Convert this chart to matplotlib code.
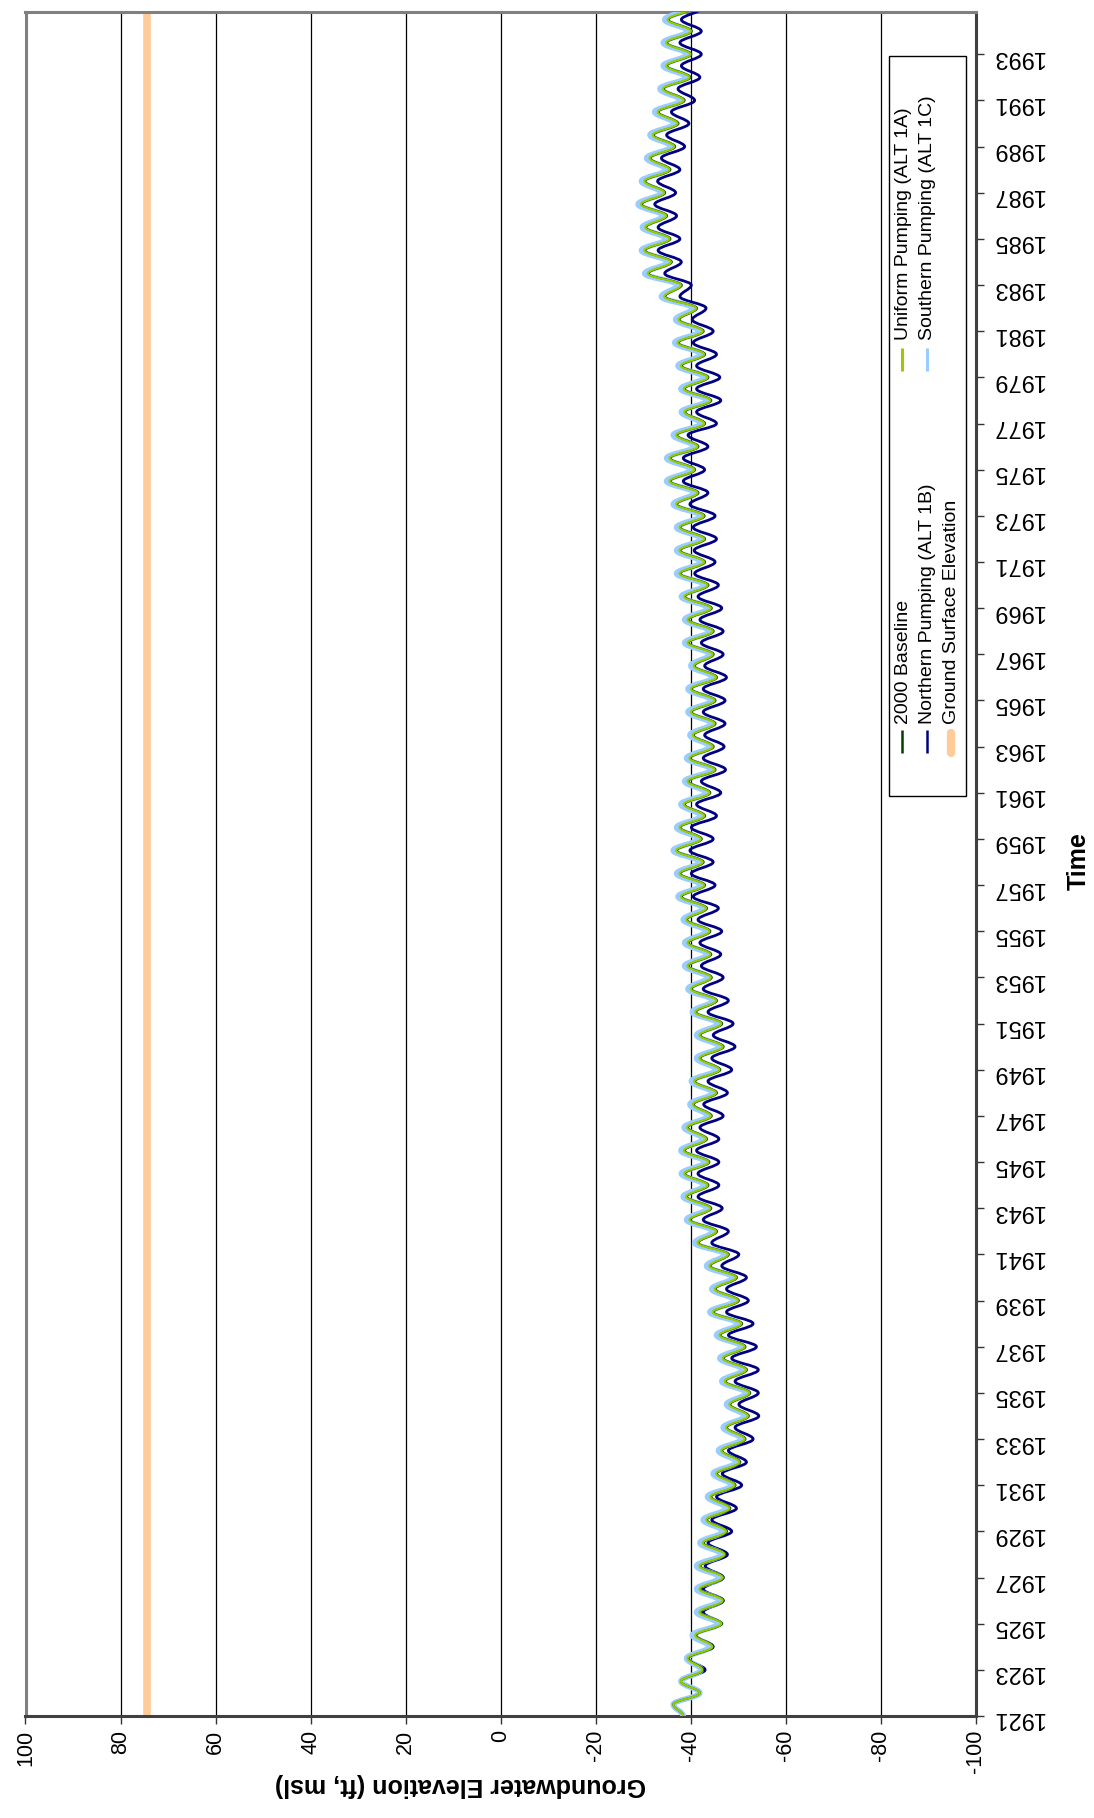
import matplotlib
matplotlib.use("Agg")
import matplotlib.pyplot as plt
from matplotlib.path import Path
from matplotlib.patches import PathPatch, Rectangle
from matplotlib.lines import Line2D

plt.rcParams["font.family"] = ["Liberation Sans", "DejaVu Sans"]

# ---- data (ft msl), highs at mid-year, lows at start of year ----
start_year = 1921.0
start_elev = -38.4
high_years = list(range(1921, 1995))   # peaks at year + 0.5
low_years = list(range(1922, 1996))    # troughs at year + 0.0

south_hi = [-36.3, -37.9, -39.1, -40.3, -41.2, -41.2, -41.2, -41.9, -42.6, -43.5,
            -44.7, -45.8, -46.8, -47.5, -46.5, -46.1, -45.4, -44.0, -44.4, -43.3,
            -40.8, -39.1, -38.4, -38.0, -37.9, -38.6, -39.8, -40.1, -41.2, -41.2,
            -40.3, -39.4, -38.7, -38.7, -38.4, -37.3, -37.0, -36.3, -37.0, -37.9,
            -38.7, -39.1, -39.8, -39.4, -39.4, -40.0, -38.7, -38.7, -38.0, -37.0,
            -37.0, -37.0, -36.3, -34.9, -34.9, -36.3, -38.0, -37.9, -37.3, -36.6,
            -36.8, -33.8, -30.3, -29.6, -29.8, -28.9, -29.6, -30.7, -31.4, -32.4,
            -33.5, -34.2, -34.2, -34.5]
south_lo = [-41.9, -42.2, -44.0, -45.8, -46.1, -46.1, -46.5, -46.8, -47.5, -48.6,
            -49.6, -50.7, -51.4, -51.7, -51.0, -50.7, -50.0, -49.3, -48.9, -47.2,
            -44.7, -43.5, -42.9, -43.1, -42.6, -43.6, -44.7, -45.4, -46.1, -45.8,
            -44.7, -43.6, -43.5, -43.3, -42.6, -42.2, -41.9, -41.5, -42.2, -43.3,
            -44.4, -44.0, -44.4, -44.4, -44.7, -44.0, -44.0, -43.6, -42.9, -42.2,
            -42.2, -42.1, -40.8, -40.1, -40.8, -42.2, -43.5, -42.9, -42.2, -41.9,
            -40.5, -37.3, -35.2, -34.9, -34.2, -33.8, -34.9, -35.9, -36.6, -37.9,
            -39.1, -39.3, -39.4, -39.5]

north_hi = [-36.5, -38.0, -39.3, -41.0, -42.6, -42.6, -43.0, -43.6, -44.4, -45.4,
            -46.6, -47.9, -49.3, -50.1, -49.3, -48.6, -47.9, -47.5, -47.5, -46.5,
            -44.4, -42.6, -41.5, -41.5, -41.2, -41.9, -42.7, -43.6, -44.4, -44.7,
            -43.6, -42.6, -42.2, -41.9, -41.5, -40.5, -40.1, -39.8, -40.1, -41.2,
            -42.2, -42.6, -42.9, -42.6, -42.6, -42.9, -42.2, -41.9, -41.5, -40.8,
            -40.7, -40.5, -39.8, -38.4, -38.4, -39.4, -41.2, -41.2, -41.2, -40.5,
            -40.3, -37.7, -34.5, -33.1, -33.1, -32.4, -33.0, -33.8, -34.9, -35.9,
            -37.3, -38.0, -37.7, -38.0]
north_lo = [-42.0, -43.0, -44.7, -46.1, -46.8, -46.8, -47.7, -48.6, -49.6, -50.7,
            -51.7, -53.1, -54.3, -54.2, -54.2, -53.8, -53.1, -52.1, -51.7, -50.1,
            -47.9, -46.6, -45.9, -45.9, -45.9, -46.8, -47.7, -48.6, -49.3, -48.9,
            -47.9, -46.8, -46.3, -46.5, -45.8, -45.1, -44.7, -44.7, -45.4, -46.3,
            -47.3, -47.0, -47.2, -47.2, -47.5, -46.8, -46.8, -46.5, -45.8, -45.1,
            -45.4, -45.1, -43.6, -42.9, -43.6, -45.4, -46.3, -46.1, -45.4, -44.7,
            -43.2, -40.1, -38.0, -37.7, -37.0, -36.8, -37.7, -38.7, -39.6, -40.8,
            -41.9, -42.2, -42.2, -42.3]

uniform_hi = [-36.3, -37.9, -39.3, -40.9, -41.8, -41.8, -41.8, -42.5, -43.2, -44.1,
              -45.3, -46.4, -47.4, -48.1, -47.1, -46.7, -46.0, -44.6, -45.0, -43.9,
              -41.4, -39.7, -39.0, -38.6, -38.5, -39.2, -40.4, -40.7, -41.8, -41.8,
              -40.9, -40.0, -39.3, -39.3, -39.0, -37.9, -37.6, -36.9, -37.6, -38.5,
              -39.3, -39.7, -40.4, -40.0, -40.0, -40.6, -39.3, -39.3, -38.6, -37.6,
              -37.6, -37.6, -36.9, -35.5, -35.5, -36.9, -38.6, -38.5, -37.9, -37.2,
              -37.4, -34.4, -30.9, -30.2, -30.4, -29.5, -30.2, -31.3, -32.0, -33.0,
              -34.1, -34.8, -34.8, -35.1]
uniform_lo = [-41.9, -42.4, -44.5, -46.4, -46.7, -46.7, -47.1, -47.4, -48.1, -49.2,
              -50.2, -51.3, -52.0, -52.3, -51.6, -51.3, -50.6, -49.9, -49.5, -47.8,
              -45.3, -44.1, -43.5, -43.7, -43.2, -44.2, -45.3, -46.0, -46.7, -46.4,
              -45.3, -44.2, -44.1, -43.9, -43.2, -42.8, -42.5, -42.1, -42.8, -43.9,
              -45.0, -44.6, -45.0, -45.0, -45.3, -44.6, -44.6, -44.2, -43.5, -42.8,
              -42.8, -42.7, -41.4, -40.7, -41.4, -42.8, -44.1, -43.5, -42.8, -42.5,
              -41.1, -37.9, -35.8, -35.5, -34.8, -34.4, -35.5, -36.5, -37.2, -38.5,
              -39.7, -39.9, -40.0, -40.1]

base_hi = [-36.3, -37.9, -39.5, -41.1, -42.0, -42.0, -42.0, -42.7, -43.4, -44.3,
           -45.5, -46.6, -47.6, -48.3, -47.3, -46.9, -46.2, -44.8, -45.2, -44.1,
           -41.6, -39.9, -39.2, -38.8, -38.7, -39.4, -40.6, -40.9, -42.0, -42.0,
           -41.1, -40.2, -39.5, -39.5, -39.2, -38.1, -37.8, -37.1, -37.8, -38.7,
           -39.5, -39.9, -40.6, -40.2, -40.2, -40.8, -39.5, -39.5, -38.8, -37.8,
           -37.8, -37.8, -37.1, -35.7, -35.7, -37.1, -38.8, -38.7, -38.1, -37.4,
           -37.6, -34.6, -31.1, -30.4, -30.6, -29.7, -30.4, -31.5, -32.2, -33.2,
           -34.3, -35.0, -35.0, -35.3]
base_lo = [-41.9, -42.6, -44.7, -46.6, -46.9, -46.9, -47.3, -47.6, -48.3, -49.4,
           -50.4, -51.5, -52.2, -52.5, -51.8, -51.5, -50.8, -50.1, -49.7, -48.0,
           -45.5, -44.3, -43.7, -43.9, -43.4, -44.4, -45.5, -46.2, -46.9, -46.6,
           -45.5, -44.4, -44.3, -44.1, -43.4, -43.0, -42.7, -42.3, -43.0, -44.1,
           -45.2, -44.8, -45.2, -45.2, -45.5, -44.8, -44.8, -44.4, -43.7, -43.0,
           -43.0, -42.9, -41.6, -40.9, -41.6, -43.0, -44.3, -43.7, -43.0, -42.7,
           -41.3, -38.1, -36.0, -35.7, -35.0, -34.6, -35.7, -36.7, -37.4, -38.7,
           -39.9, -40.1, -40.2, -40.3]

ground_elev = 74.5

elev_ticks = [100, 80, 60, 40, 20, 0, -20, -40, -60, -80, -100]
elev_labels = ["100", "80", "60", "40", "20", "0", "-20", "-40", "-60", "-80", "-100"]
year_ticks = list(range(1921, 1994, 2))
time_end = 1994.83

W, H = 1094, 1818


def series_path(hi, lo):
    t = [start_year]
    e = [start_elev]
    for y_hi, v_hi, y_lo, v_lo in zip(high_years, hi, low_years, lo):
        t += [y_hi + 0.5, y_lo]
        e += [v_hi, v_lo]
    # smooth line between turning points (like Excel "smoothed line")
    c = 0.3634
    verts = [(e[0], t[0])]
    codes = [Path.MOVETO]
    for k in range(len(t) - 1):
        dt = t[k + 1] - t[k]
        verts += [(e[k], t[k] + c * dt), (e[k + 1], t[k + 1] - c * dt), (e[k + 1], t[k + 1])]
        codes += [Path.CURVE4] * 3
    return Path(verts, codes)


fig = plt.figure(figsize=(W / 100, H / 100), dpi=100)
ax = fig.add_axes([25.5 / W, 1 - 1716 / H, (976 - 25.5) / W, (1716 - 12) / H])

ax.axvline(ground_elev, color="#FFCC99", lw=5.5, zorder=2)

# drawing order: northern, southern, baseline, uniform on top
series = [
    (north_hi, north_lo, "#000080", 2.0),
    (south_hi, south_lo, "#99CCFF", 4.0),
    (base_hi, base_lo, "#004000", 1.4),
    (uniform_hi, uniform_lo, "#99CC00", 1.5),
]
for hi, lo, col, lw in series:
    patch = PathPatch(series_path(hi, lo), fill=False, edgecolor=col, lw=lw,
                      joinstyle="round", capstyle="round", zorder=3)
    ax.add_patch(patch)

ax.set_xlim(100, -100)
ax.set_ylim(1921, time_end)
ax.set_xticks(elev_ticks)
ax.set_xticklabels(elev_labels)
ax.set_yticks(year_ticks)
ax.set_yticklabels([str(y) for y in year_ticks])
ax.yaxis.tick_right()
ax.grid(axis="x", color="black", lw=0.9)
ax.set_axisbelow(True)

ax.tick_params(axis="x", direction="out", length=6, width=1, labelrotation=90,
               labelsize=15.5, pad=4, color="#333333")
ax.tick_params(axis="y", direction="out", length=6, width=1, labelrotation=180,
               labelsize=17, pad=5, color="#333333")

for side in ["top", "left"]:
    ax.spines[side].set_color("#808080")
    ax.spines[side].set_linewidth(2.2)
for side in ["bottom", "right"]:
    ax.spines[side].set_color("#404040")
    ax.spines[side].set_linewidth(2.2)

fig.text(460 / W, 1 - 1785 / H, "Groundwater Elevation (ft, msl)", rotation=180,
         fontsize=18, fontweight="bold", ha="center", va="center")
fig.text(1079 / W, 1 - 861 / H, "Time", rotation=90,
         fontsize=18, fontweight="bold", ha="center", va="center")

# legend, drawn sideways like the rest of the chart
fig.add_artist(Rectangle((889 / W, 1 - 796 / H), 77 / W, 740 / H,
                         transform=fig.transFigure, fill=False, ec="black", lw=1))
legend_items = [
    ("2000 Baseline", "#004000", 1.8, 902, 753, 730, 724),
    ("Northern Pumping (ALT 1B)", "#000080", 1.8, 927, 753, 730, 724),
    ("Ground Surface Elevation", "#FFCC99", 6.0, 951, 753, 733, 724),
    ("Uniform Pumping (ALT 1A)", "#99CC00", 2.2, 902, 371, 348, 340),
    ("Southern Pumping (ALT 1C)", "#99CCFF", 2.2, 927, 371, 348, 340),
]
for label, col, lw, x, y0, y1, ytxt in legend_items:
    fig.add_artist(Line2D([x / W, x / W], [1 - y0 / H, 1 - y1 / H],
                          transform=fig.transFigure, color=col, lw=lw,
                          solid_capstyle="round" if lw > 4 else "butt"))
    fig.text((x + 1) / W, 1 - ytxt / H, label, rotation=90, fontsize=14,
             ha="center", va="bottom")

fig.savefig("out.png", dpi=100)
